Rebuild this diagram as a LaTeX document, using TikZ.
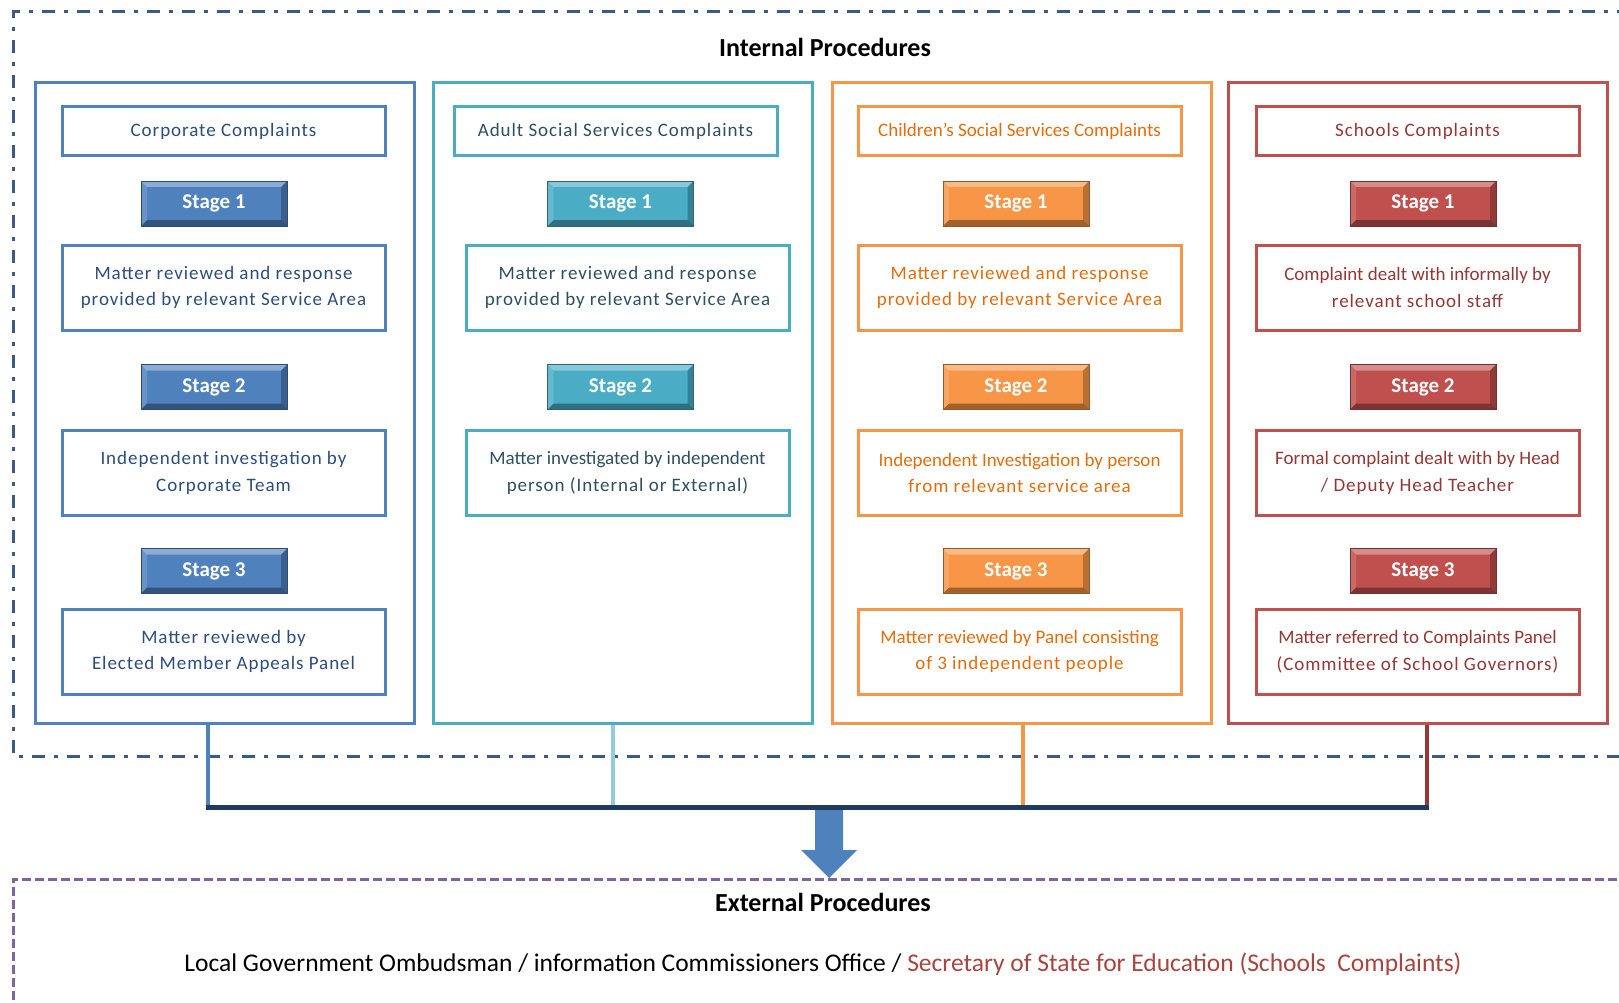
\documentclass[tikz,border=0pt]{standalone}
\usepackage{fontspec}
\setmainfont{Carlito}
\newfontfamily\boxfont[LetterSpace=5]{Carlito}
\usetikzlibrary{calc}
\definecolor{corp}{HTML}{4F81BD}
\definecolor{adult}{HTML}{4BACC6}
\definecolor{child}{HTML}{F79646}
\definecolor{school}{HTML}{C0504D}
\definecolor{corptext}{HTML}{2C4D7C}
\definecolor{adulttext}{HTML}{2E4F5F}
\definecolor{childtext}{HTML}{E46C0A}
\definecolor{schooltext}{HTML}{943634}
\definecolor{frameblue}{HTML}{3B5A85}
\definecolor{navy}{HTML}{1F3A5F}
\definecolor{lightblue}{HTML}{93CDDD}
\definecolor{darkred}{HTML}{953735}
\definecolor{purp}{HTML}{8064A2}
\definecolor{redtext}{HTML}{A9443F}
\newcommand{\tightline}[1]{{\rmfamily #1}}
\begin{document}
\begin{tikzpicture}[x=1pt,y=-1pt,
  colbox/.style={draw=#1, line width=3pt, minimum width=379pt, minimum height=640pt, inner sep=0pt},
  headbox/.style={draw=#1, line width=3pt, minimum width=323pt, minimum height=49pt, inner sep=0pt, font=\boxfont\fontsize{19}{21}\selectfont},
  descbox/.style={draw=#1, line width=3pt, minimum width=323pt, minimum height=85pt, inner sep=0pt, align=center, font=\boxfont\fontsize{19}{26.5}\selectfont},
  btn/.style={minimum width=146pt, minimum height=45pt, inner sep=0pt, fill=#1, draw=#1!60!black, line width=0.8pt, text=white, font=\fontsize{21}{24}\selectfont\bfseries,
    path picture={
      \fill[white,opacity=0.35] (path picture bounding box.north west) -- (path picture bounding box.north east) -- ([xshift=-6pt,yshift=-6pt]path picture bounding box.north east) -- ([xshift=6pt,yshift=-6pt]path picture bounding box.north west) -- cycle;
      \fill[white,opacity=0.15] (path picture bounding box.north west) -- (path picture bounding box.south west) -- ([xshift=6pt,yshift=6pt]path picture bounding box.south west) -- ([xshift=6pt,yshift=-6pt]path picture bounding box.north west) -- cycle;
      \fill[black,opacity=0.35] (path picture bounding box.south west) -- (path picture bounding box.south east) -- ([xshift=-6pt,yshift=6pt]path picture bounding box.south east) -- ([xshift=6pt,yshift=6pt]path picture bounding box.south west) -- cycle;
      \fill[black,opacity=0.25] (path picture bounding box.north east) -- (path picture bounding box.south east) -- ([xshift=-6pt,yshift=6pt]path picture bounding box.south east) -- ([xshift=-6pt,yshift=-6pt]path picture bounding box.north east) -- cycle;
    }},
  title/.style={font=\fontsize{26}{30}\selectfont\bfseries, text=black},
  conn/.style={line width=4pt},
]
\useasboundingbox (0,0) rectangle (1619,1003);
\clip (0,0) rectangle (1619,1003);

% outer frames
\draw[frameblue, line width=3pt, dash pattern=on 13pt off 9pt on 4pt off 9pt] (1630,12) -- (13,12) -- (13,756) -- (1630,756);
\draw[purp, line width=3pt, dash pattern=on 9pt off 4pt] (1630,879) -- (13,879) -- (13,1010);

\node[title] (intl) at (825,47) {Internal Procedures};

% columns
\node[colbox=corp] (col1) at (224.5,403) {};
\node[colbox=adult] (col2) at (622.5,403) {};
\node[colbox=child] (col3) at (1022,403) {};
\node[colbox=school] (col4) at (1417.5,403) {};

% column 1
\node[headbox=corp, text=corptext] (h1) at (223.5,131.5) {Corporate Complaints};
\node[btn=corp] (a1) at (214,203.5) {Stage 1};
\node[descbox=corp, text=corptext] (d11) at (223.5,287.5) {Matter reviewed and response\\provided by relevant Service Area};
\node[btn=corp] (a2) at (214,387) {Stage 2};
\node[descbox=corp, text=corptext] (d12) at (223.5,473) {Independent investigation by\\Corporate Team};
\node[btn=corp] (a3) at (214,571) {Stage 3};
\node[descbox=corp, text=corptext] (d13) at (223.5,651.5) {Matter reviewed by\\Elected Member Appeals Panel};

% column 2
\node[headbox=adult, text=adulttext] (h2) at (615.5,131.5) {Adult Social Services Complaints};
\node[btn=adult] (b1s) at (620.5,203.5) {Stage 1};
\node[descbox=adult, text=adulttext] (d21) at (627.5,287.5) {Matter reviewed and response\\provided by relevant Service Area};
\node[btn=adult] (b2s) at (620.5,387) {Stage 2};
\node[descbox=adult, text=adulttext] (d22) at (627.5,473) {\tightline{Matter investigated by independent}\\person (Internal or External)};

% column 3
\node[headbox=child, text=childtext] (h3) at (1019.5,131.5) {\tightline{Children’s Social Services Complaints}};
\node[btn=child] (c1s) at (1016,203.5) {Stage 1};
\node[descbox=child, text=childtext] (d31) at (1019.5,287.5) {Matter reviewed and response\\provided by relevant Service Area};
\node[btn=child] (c2s) at (1016,387) {Stage 2};
\node[descbox=child, text=childtext] (d32) at (1019.5,473) {\tightline{Independent Investigation by person}\\from relevant service area};
\node[btn=child] (c3s) at (1016,571) {Stage 3};
\node[descbox=child, text=childtext] (d33) at (1019.5,651.5) {\tightline{Matter reviewed by Panel consisting}\\of 3 independent people};

% column 4
\node[headbox=school, text=schooltext] (h4) at (1417.5,131.5) {Schools Complaints};
\node[btn=school] (e1s) at (1423,203.5) {Stage 1};
\node[descbox=school, text=schooltext] (d41) at (1417.5,287.5) {\tightline{Complaint dealt with informally by}\\relevant school staff};
\node[btn=school] (e2s) at (1423,387) {Stage 2};
\node[descbox=school, text=schooltext] (d42) at (1417.5,473) {\tightline{Formal complaint dealt with by Head}\\/ Deputy Head Teacher};
\node[btn=school] (e3s) at (1423,571) {Stage 3};
\node[descbox=school, text=schooltext] (d43) at (1417.5,651.5) {\tightline{Matter referred to Complaints Panel}\\(Committee of School Governors)};

% bus
\coordinate (p1) at (207.5,807);
\coordinate (p2) at (613,807);
\coordinate (p3) at (1023,807);
\coordinate (p4) at (1427,807);
\draw[conn, corp] (col1.south -| p1) -- (p1);
\draw[conn, lightblue] (col2.south -| p2) -- (p2);
\draw[conn, child] (col3.south -| p3) -- (p3);
\draw[conn, darkred] (col4.south -| p4) -- (p4);
\draw[navy, line width=5pt] ([xshift=-2pt]p1) -- ([xshift=2pt]p4);

% external
\coordinate (atop) at (829,810);
\coordinate (atip) at (829,878);
\fill[corp] ($(atop)+(-14,0)$) -- ($(atop)+(14,0)$) -- ($(atop)+(14,40)$) -- ($(atop)+(28,40)$) -- (atip) -- ($(atop)+(-28,40)$) -- ($(atop)+(-14,40)$) -- cycle;

\node[title] (extl) at (823,902) {External Procedures};
\node[font=\fontsize{25.5}{30}\selectfont, text=black] (ext) at (823,964) {Local Government Ombudsman / information Commissioners Office / \textcolor{redtext}{Secretary of State for Education (Schools\ \ Complaints)}};
\end{tikzpicture}
\end{document}
